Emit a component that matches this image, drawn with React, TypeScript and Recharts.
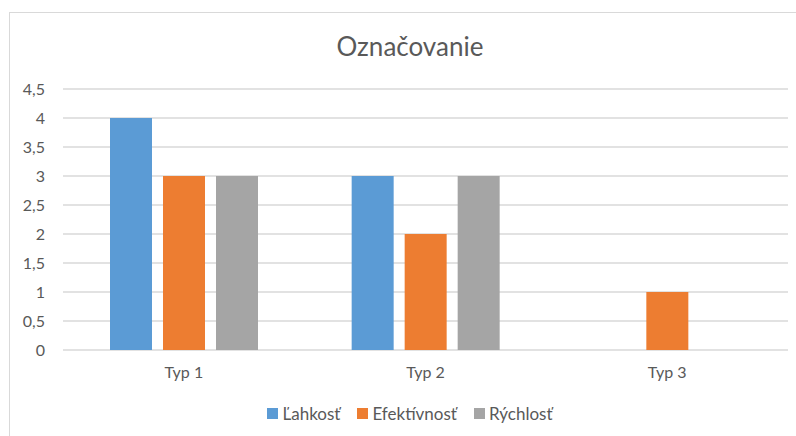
import { BarChart, Bar, XAxis, YAxis, CartesianGrid, Legend } from "recharts";

const categories = ["Typ 1", "Typ 2", "Typ 3"];
const lahkost = [4, 3, 0];
const efektivnost = [3, 2, 1];
const rychlost = [3, 3, 0];
const yTicks = [0, 0.5, 1, 1.5, 2, 2.5, 3, 3.5, 4, 4.5];

const SERIES = [
  { key: "lahkost", name: "Ľahkosť", color: "#5B9BD5" },
  { key: "efektivnost", name: "Efektívnosť", color: "#ED7D31" },
  { key: "rychlost", name: "Rýchlosť", color: "#A5A5A5" },
];

const data = categories.map((name, i) => ({
  name,
  lahkost: lahkost[i],
  efektivnost: efektivnost[i],
  rychlost: rychlost[i],
}));

const FONT = "Lato, 'Open Sans', sans-serif";
const TEXT = "#595959";

const LegendContent = () => (
  <div style={{ display: "flex", justifyContent: "center", gap: 17, fontFamily: FONT, fontSize: 17, color: TEXT }}>
    {SERIES.map((s) => (
      <div key={s.key} style={{ display: "flex", alignItems: "center" }}>
        <span style={{ width: 11, height: 11, background: s.color, marginRight: 4, display: "inline-block" }} />
        <span>{s.name}</span>
      </div>
    ))}
  </div>
);

export default function App() {
  return (
    <div style={{ position: "absolute", left: 0, top: 0, width: 796, height: 436, overflow: "hidden", background: "#fff" }}>
      <div
        style={{
          position: "absolute",
          left: 9,
          top: 12,
          width: 820,
          height: 500,
          border: "1px solid #d9d9d9",
        }}
      />
      <div
        style={{
          position: "absolute",
          left: 12,
          top: 30,
          width: 796,
          textAlign: "center",
          fontFamily: FONT,
          fontSize: 26,
          color: TEXT,
        }}
      >
        Označovanie
      </div>
      <div style={{ position: "absolute", left: 0, top: 0 }}>
        <BarChart
          width={796}
          height={436}
          data={data}
          margin={{ top: 89, right: 8, left: 0, bottom: 56 }}
          barCategoryGap={47}
          barGap={11}
        >
          <CartesianGrid vertical={false} stroke="#d9d9d9" strokeWidth={1.5} />
          <XAxis
            dataKey="name"
            axisLine={false}
            tickLine={false}
            tickSize={0}
            tickMargin={17}
            height={30}
            tick={{ fill: TEXT, fontSize: 16, fontFamily: FONT }}
          />
          <YAxis
            domain={[0, 4.5]}
            ticks={yTicks}
            width={63}
            axisLine={false}
            tickLine={false}
            tickSize={0}
            tickMargin={18}
            tickFormatter={(v: number) => String(v).replace(".", ",")}
            tick={{ fill: TEXT, fontSize: 16, fontFamily: FONT }}
          />
          <Legend
            layout="horizontal"
            verticalAlign="middle"
            align="center"
            wrapperStyle={{ top: 403, left: 12, width: 796 }}
            content={<LegendContent />}
          />
          {SERIES.map((s) => (
            <Bar key={s.key} dataKey={s.key} name={s.name} fill={s.color} isAnimationActive={false} />
          ))}
        </BarChart>
      </div>
    </div>
  );
}
